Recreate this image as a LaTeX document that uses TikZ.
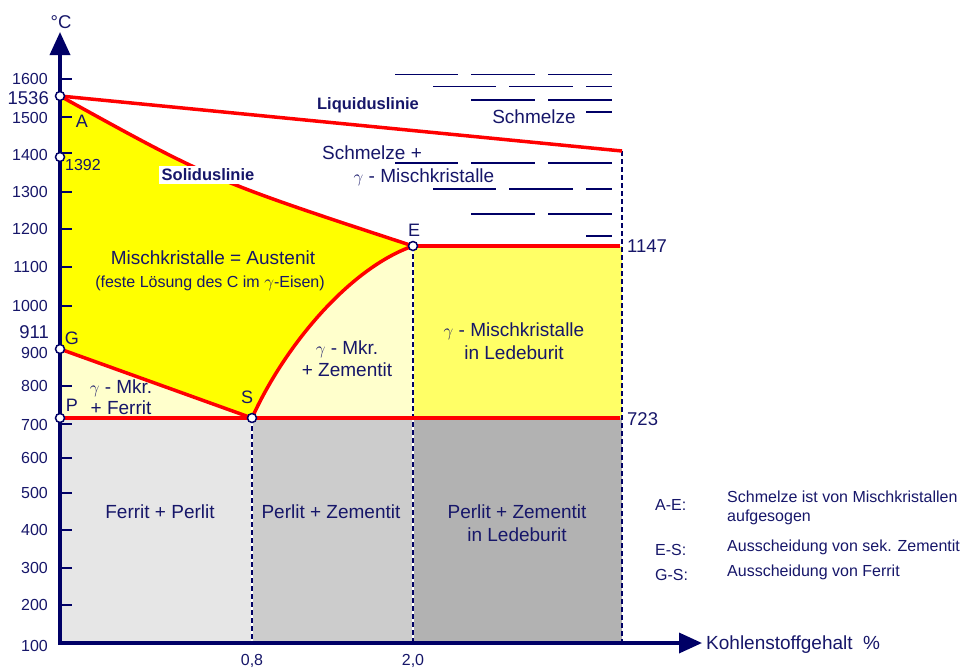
\documentclass[tikz,border=0pt]{standalone}
\usepackage{fontspec}
\setmainfont{Liberation Sans}
\usetikzlibrary{arrows.meta}
\definecolor{navy}{RGB}{0,0,102}
\definecolor{ink}{RGB}{22,22,105}
\definecolor{yel}{RGB}{255,255,0}
\definecolor{lyel}{RGB}{255,255,204}
\definecolor{myel}{RGB}{255,255,102}
\definecolor{gA}{RGB}{230,230,230}
\definecolor{gB}{RGB}{204,204,204}
\definecolor{gC}{RGB}{178,178,178}
\begin{document}
\begin{tikzpicture}[x=1pt,y=-1pt,
  lbl/.style={text=ink, inner sep=0pt, font=\fontsize{19}{23}\selectfont, align=center},
  ticklbl/.style={text=ink, inner sep=0pt, anchor=east, font=\fontsize{16}{18}\selectfont},
  biglbl/.style={text=ink, inner sep=0pt, font=\fontsize{18.5}{20}\selectfont},
  letter/.style={text=ink, inner sep=0pt, font=\fontsize{18}{20}\selectfont},
  legend/.style={text=ink, inner sep=0pt, anchor=west, font=\fontsize{16}{19}\selectfont, align=left},
  boldlbl/.style={text=ink, inner sep=0pt, font=\bfseries\fontsize{16.5}{18}\selectfont},
  tickmark/.style={line width=2pt, draw=navy},
  axis/.style={line width=3.5pt, draw=navy, -{Triangle[length=23pt,width=20pt]}},
  redline/.style={draw=red, line width=3.5pt},
  vdash/.style={draw=navy, line width=2pt, dash pattern=on 5pt off 3pt},
  vunder/.style={draw=white, line width=2pt},
  hatch/.style={draw=navy, line width=1.3pt},
  pt/.style={circle, draw=navy, fill=white, line width=1.5pt, minimum size=9pt, inner sep=0pt}
]
\useasboundingbox (0,0) rectangle (972,672);
% key points
\coordinate (A) at (60,96);
\coordinate (Y1392) at (60,157);
\coordinate (G) at (60,349);
\coordinate (P) at (60,418);
\coordinate (S) at (252,418);
\coordinate (E) at (413,246);
\coordinate (L) at (622,151);
\coordinate (R11) at (620,246);
\coordinate (R11b) at (622,246);
\coordinate (R7) at (620,418);
\coordinate (R7b) at (622,418);
\coordinate (E7) at (413,418);
\coordinate (O) at (60,643);
\coordinate (S0) at (252,643);
\coordinate (E0) at (413,643);
\coordinate (L0) at (622,643);
% fills
\fill[gA] (P) rectangle (S0);
\fill[gB] (S) rectangle (E0);
\fill[gC] (E7) rectangle (L0);
\fill[myel] (E) rectangle (R7b);
\fill[lyel] (P) -- (G) -- (S) -- cycle;
\fill[lyel] (S) .. controls (285,345) and (350,268) .. (E) -- (E7) -- cycle;
\fill[yel] (A) .. controls (212,180) .. (E) .. controls (350,268) and (285,345) .. (S) -- (G) -- cycle;
% schmelze hatching
\foreach \y in {74.7,163}{
  \draw[hatch] (395,\y) -- (458,\y);
  \draw[hatch] (471,\y) -- (535,\y);
  \draw[hatch] (548,\y) -- (612,\y);}
\foreach \y in {86.7,189}{
  \draw[hatch] (433,\y) -- (496,\y);
  \draw[hatch] (509,\y) -- (573,\y);
  \draw[hatch] (586,\y) -- (612,\y);}
\foreach \y in {100,214}{
  \draw[hatch] (471,\y) -- (535,\y);
  \draw[hatch] (548,\y) -- (612,\y);}
\foreach \y in {112,236}{
  \draw[hatch] (586,\y) -- (612,\y);}
% dashed verticals
\draw[vunder] (S) -- (S0);
\draw[vunder] (E) -- (E0);
\draw[vdash] (S) -- (S0);
\draw[vdash] (E) -- (E0);
\draw[vdash] (L) -- (L0);
% red lines
\draw[redline] (A) -- (L);
\draw[redline] (A) .. controls (212,180) .. (E);
\draw[redline] (G) -- (S);
\draw[redline] (S) .. controls (285,345) and (350,268) .. (E);
\draw[redline] (E) -- (R11);
\draw[redline] (P) -- (R7);
% axes
\draw[axis] (60,645) -- (60,32);
\draw[axis] (58,643) -- (702,643);
\foreach \y in {79,117,153,192,229,267,306,386,424,458,493,530,568,605}
  \draw[tickmark] (60,\y) -- (72,\y);
% points
\node[pt] (cA) at (A) {};
\node[pt] (c1392) at (Y1392) {};
\node[pt] (cG) at (G) {};
\node[pt] (cP) at (P) {};
\node[pt] (cS) at (S) {};
\node[pt] (cE) at (E) {};
% axis labels
\node[biglbl] (degC) at (61,22) {°C};
\node[ticklbl] (t1600) at (48,79) {1600};
\node[biglbl, anchor=east] (t1536) at (49,98) {1536};
\node[ticklbl] (t1500) at (48,118) {1500};
\node[ticklbl] (t1400) at (48,155) {1400};
\node[ticklbl, anchor=west] (t1392) at (65,165) {1392};
\node[ticklbl] (t1300) at (48,192) {1300};
\node[ticklbl] (t1200) at (48,229) {1200};
\node[ticklbl] (t1100) at (48,267) {1100};
\node[ticklbl] (t1000) at (48,306) {1000};
\node[biglbl, anchor=east] (t911) at (49,332) {911};
\node[ticklbl] (t900) at (48,353) {900};
\node[ticklbl] (t800) at (48,386) {800};
\node[ticklbl] (t700) at (48,425) {700};
\node[ticklbl] (t600) at (48,458) {600};
\node[ticklbl] (t500) at (48,493) {500};
\node[ticklbl] (t400) at (48,530) {400};
\node[ticklbl] (t300) at (48,568) {300};
\node[ticklbl] (t200) at (48,605) {200};
\node[ticklbl] (t100) at (48,646) {100};
\node[ticklbl, anchor=center] (x08) at (252,661) {0,8};
\node[ticklbl, anchor=center] (x20) at (413,661) {2,0};
\node[lbl, anchor=west] (xlab) at (706,645) {Kohlenstoffgehalt\ \ \%};
\node[biglbl, anchor=west] (l1147) at (627,246) {1147};
\node[biglbl, anchor=west] (l723) at (627,419) {723};
% point letters
\node[letter] (lA) at (82,121) {A};
\node[letter] (lG) at (72,338) {G};
\node[letter] (lP) at (72,405) {P};
\node[letter] (lS) at (247,397) {S};
\node[letter] (lE) at (414,230) {E};
% region labels
\node[boldlbl] (liq) at (368,105) {Liquiduslinie};
\node[boldlbl, fill=white, inner xsep=3pt, inner ysep=2.5pt] (sol) at (208,175) {Soliduslinie};
\node[lbl] (schm) at (534,117) {Schmelze};
\node[lbl] (schmp) at (372,153) {Schmelze +};
\node[lbl] (gmk) at (424,177) {$\gamma$ - Mischkristalle};
\node[lbl] (aus) at (213,258) {Mischkristalle = Austenit};
\node[lbl, font=\fontsize{16}{19}\selectfont] (fest) at (210,283) {(feste Lösung des C im $\gamma$-Eisen)};
\node[lbl, font=\fontsize{19}{21}\selectfont] (gf) at (121,397) {$\gamma$ - Mkr.\\+ Ferrit};
\node[lbl, font=\fontsize{19}{22}\selectfont] (gz) at (347,359) {$\gamma$ - Mkr.\\+ Zementit};
\node[lbl] (gl) at (514,341) {$\gamma$ - Mischkristalle\\in Ledeburit};
\node[lbl] (fp) at (160,512) {Ferrit + Perlit};
\node[lbl] (pz) at (331,512) {Perlit + Zementit};
\node[lbl] (pzl) at (517,523) {Perlit + Zementit\\in Ledeburit};
% legend
\node[legend] (kAE) at (655,505) {A-E:};
\node[legend] (vAE) at (727,508) {Schmelze ist von Mischkristallen\\aufgesogen};
\node[legend] (kES) at (655,550) {E-S:};
\node[legend] (vES) at (727,547) {Ausscheidung von sek. Zementit};
\node[legend] (kGS) at (655,575) {G-S:};
\node[legend] (vGS) at (727,572) {Ausscheidung von Ferrit};
\end{tikzpicture}
\end{document}
